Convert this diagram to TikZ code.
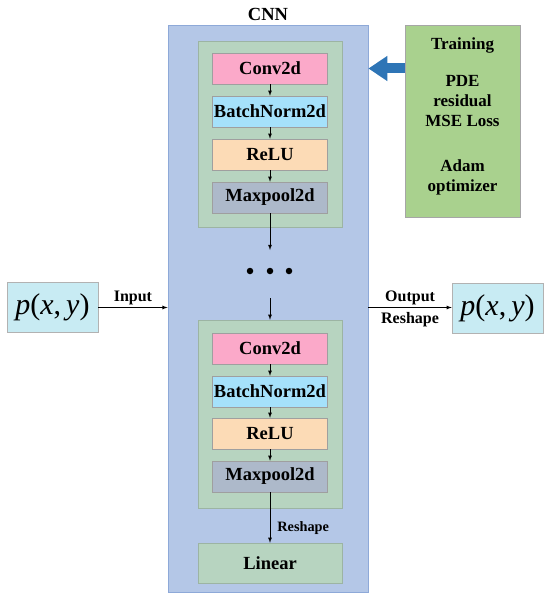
\documentclass[tikz,border=0pt]{standalone}
\usepackage{fontspec}
\setmainfont{Liberation Serif}
\usetikzlibrary{calc}
\usetikzlibrary{positioning}
\usetikzlibrary{arrows}
\usetikzlibrary{arrows.meta}
\definecolor{cnnblue}{HTML}{B4C7E7}
\definecolor{cnnline}{HTML}{8EA9D8}
\definecolor{blockgreen}{HTML}{B7D4C0}
\definecolor{convpink}{HTML}{FBA9C9}
\definecolor{bnblue}{HTML}{A5E1FB}
\definecolor{relupeach}{HTML}{FCDBB6}
\definecolor{poolgray}{HTML}{ADB9CA}
\definecolor{traingreen}{HTML}{A9D18E}
\definecolor{pcyan}{HTML}{C8EBF3}
\definecolor{arrowblue}{HTML}{2E75B6}

\begin{document}
\begin{tikzpicture}[x=1pt,y=-1pt,>=latex,
  layer/.style={rectangle,draw=gray!75,line width=0.5pt,fill=#1,inner sep=0pt,
    minimum width=115pt,minimum height=31pt,font=\fontsize{18.5}{20}\selectfont\bfseries},
  block/.style={rectangle,fill=blockgreen,draw=blockgreen!85!black,line width=0.4pt,
    minimum width=144pt,inner sep=0pt},
  pbox/.style={rectangle,fill=pcyan,draw=gray!60,line width=0.5pt,inner sep=0pt,
    minimum width=91pt,minimum height=50pt,font=\fontsize{30}{32}\selectfont},
  lbl/.style={font=\fontsize{16}{18}\selectfont\bfseries,inner sep=2pt},
  dot/.style={circle,fill=black,inner sep=0pt,minimum size=6.5pt},
  flow/.style={->,line width=0.8pt}]

\useasboundingbox (0,0) rectangle (550,599);

\node [rectangle,fill=cnnblue,draw=cnnline,line width=0.8pt,minimum width=200pt,minimum height=567pt] (cnn) at (268,308.5) {};
\node [font=\fontsize{18.5}{20}\selectfont\bfseries] (cnntitle) at (268,14) {CNN};

\node [block,minimum height=186pt] (blockA) at (270,134) {};
\node [layer=convpink] (convA) at (270,68.5) {Conv2d};
\node [layer=bnblue] (bnA) at (270,111.5) {BatchNorm2d};
\node [layer=relupeach] (reluA) at (270,154.5) {ReLU};
\node [layer=poolgray] (poolA) at (270,197.5) {Maxpool2d};

\node [block,minimum height=188pt] (blockB) at (270,414) {};
\node [layer=convpink] (convB) at (270,348.5) {Conv2d};
\node [layer=bnblue] (bnB) at (270,391.5) {BatchNorm2d};
\node [layer=relupeach] (reluB) at (270,433.5) {ReLU};
\node [layer=poolgray] (poolB) at (270,476.5) {Maxpool2d};

\node [block,minimum height=40pt,font=\fontsize{18.5}{20}\selectfont\bfseries] (linear) at (270,563) {Linear};

\node [dot] (dotA) at (250,271) {};
\node [dot] (dotB) at (270,271) {};
\node [dot] (dotC) at (289,271) {};
\coordinate (gapA) at (270,250);
\coordinate (gapB) at (270,298);

\draw [flow] (convA) -- (bnA);
\draw [flow] (bnA) -- (reluA);
\draw [flow] (reluA) -- (poolA);
\draw [flow] (poolA) -- (gapA);
\draw [flow] (gapB) -- (blockB.north);
\draw [flow] (convB) -- (bnB);
\draw [flow] (bnB) -- (reluB);
\draw [flow] (reluB) -- (poolB);
\draw [flow] (poolB) -- node[lbl,right=5pt,pos=0.7,font=\fontsize{14.3}{16}\selectfont\bfseries] {Reshape} (linear);

\node [pbox] (inp) at (52.5,307.5) {\textit{p}(\textit{x},\,\textit{y})};
\node [pbox] (outp) at (497.5,308) {\textit{p}(\textit{x},\,\textit{y})};

\draw [flow] (inp.east) -- node[lbl,above] {Input} (inp.east -| cnn.west);
\draw [flow] (inp.east -| cnn.east) -- node[lbl,above] {Output} node[lbl,below=2pt] {Reshape} (inp.east -| outp.west);

\node [rectangle,fill=traingreen,draw=gray!70,line width=0.5pt,minimum width=115pt,minimum height=192pt] (train) at (462.5,121) {};
\node [align=center,font=\fontsize{17}{20}\selectfont\bfseries] (traintext) at (462.5,116)
  {Training\\[17pt]PDE\\residual\\MSE Loss\\[25pt]Adam\\optimizer};

\draw [line width=10pt,arrowblue,-{Triangle[length=19pt,width=24pt]}] (train.west |- convA) -- (cnn.east |- convA);

\end{tikzpicture}
\end{document}
